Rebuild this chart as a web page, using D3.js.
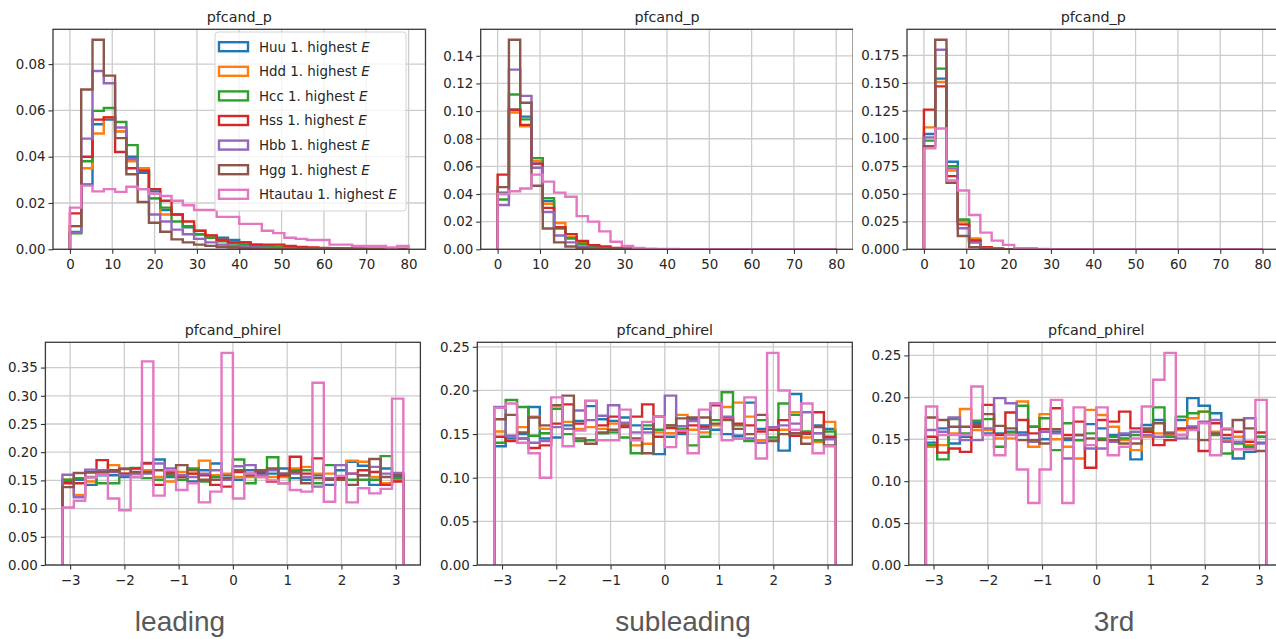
<!DOCTYPE html>
<html>
<head>
<meta charset="utf-8">
<script src="https://cdn.jsdelivr.net/npm/d3@7"></script>
<style>
  html, body { margin: 0; padding: 0; background: #fff; }
  svg { display: block; }
</style>
</head>
<body>
<svg id="fig" width="1276" height="639"></svg>
<script>
// ---- series and binning -------------------------------------------------
const seriesNames = ["Huu", "Hdd", "Hcc", "Hss", "Hbb", "Hgg", "Htautau"];
const seriesColors = ["#1f77b4", "#ff7f0e", "#2ca02c", "#d62728", "#9467bd", "#8c564b", "#e377c2"];
const nBins = 30;
const pRange = [0, 80];
const phiRange = [-Math.PI, Math.PI];

// ---- tick values ---------------------------------------------------------
const pTicks = [0, 10, 20, 30, 40, 50, 60, 70, 80];
const phiTicks = [-3, -2, -1, 0, 1, 2, 3];
const yTicksLeadP = [0, 0.02, 0.04, 0.06, 0.08];
const yTicksSubP = [0, 0.02, 0.04, 0.06, 0.08, 0.10, 0.12, 0.14];
const yTicksThirdP = [0, 0.025, 0.05, 0.075, 0.10, 0.125, 0.15, 0.175];
const yTicksLeadPhi = [0, 0.05, 0.10, 0.15, 0.20, 0.25, 0.30, 0.35];
const yTicksSubPhi = [0, 0.05, 0.10, 0.15, 0.20, 0.25];
const yTicksThirdPhi = [0, 0.05, 0.10, 0.15, 0.20, 0.25];

// ---- panel titles and row captions --------------------------------------
const titleP = "pfcand_p";
const titlePhi = "pfcand_phirel";
const captions = ["leading", "subleading", "3rd"];

// ---- normalised histograms (rows follow seriesNames) --------------------
// pfcand_p, leading candidate
const pLeading = [
  [0.0075, 0.028, 0.054, 0.056, 0.051, 0.040, 0.033, 0.025, 0.017, 0.015, 0.0095, 0.0065, 0.005, 0.005, 0.004, 0.003, 0.002, 0.0015, 0.001, 0.0008, 0.0006, 0.0005, 0.0004, 0.0003, 0.0002, 0.0002, 0.0001, 0.0001, 0.0001, 0.0001],
  [0.010, 0.035, 0.050, 0.057, 0.051, 0.038, 0.035, 0.022, 0.015, 0.015, 0.010, 0.008, 0.006, 0.004, 0.003, 0.002, 0.0015, 0.0015, 0.001, 0.001, 0.0008, 0.0006, 0.0005, 0.0004, 0.0003, 0.0002, 0.0002, 0.0001, 0.0001, 0.0001],
  [0.0069, 0.038, 0.0598, 0.061, 0.055, 0.045, 0.034, 0.022, 0.018, 0.012, 0.010, 0.0065, 0.005, 0.0035, 0.0025, 0.002, 0.0015, 0.001, 0.0008, 0.0006, 0.0005, 0.0004, 0.0003, 0.0002, 0.0002, 0.0001, 0.0001, 0.0001, 0, 0],
  [0.0155, 0.040, 0.056, 0.057, 0.042, 0.035, 0.034, 0.026, 0.021, 0.015, 0.012, 0.008, 0.006, 0.004, 0.003, 0.003, 0.002, 0.002, 0.002, 0.0015, 0.001, 0.0008, 0.0006, 0.0005, 0.0004, 0.0003, 0.0002, 0.0002, 0.0001, 0.0001],
  [0.0072, 0.0478, 0.077, 0.0717, 0.0526, 0.039, 0.026, 0.015, 0.012, 0.0085, 0.0065, 0.0045, 0.003, 0.002, 0.0015, 0.001, 0.0008, 0.0006, 0.0004, 0.0003, 0.0002, 0.0002, 0.0001, 0.0001, 0, 0, 0, 0, 0, 0],
  [0.010, 0.069, 0.0905, 0.075, 0.048, 0.0324, 0.0204, 0.0115, 0.0076, 0.0043, 0.003, 0.002, 0.0015, 0.001, 0.0008, 0.0005, 0.0003, 0.0002, 0.0002, 0.0001, 0.0001, 0, 0, 0, 0, 0, 0, 0, 0, 0],
  [0.018, 0.0275, 0.025, 0.026, 0.0248, 0.027, 0.026, 0.024, 0.023, 0.021, 0.019, 0.017, 0.017, 0.014, 0.014, 0.011, 0.011, 0.008, 0.007, 0.005, 0.0045, 0.004, 0.004, 0.002, 0.002, 0.0015, 0.0015, 0.0015, 0.0008, 0.0015]
];

// pfcand_p, subleading candidate
const pSubleading = [
  [0.041, 0.101, 0.096, 0.062, 0.035, 0.016, 0.008, 0.004, 0.002, 0.001, 0.0005, 0.0002, 0.0001, 0, 0, 0, 0, 0, 0, 0, 0, 0, 0, 0, 0, 0, 0, 0, 0, 0],
  [0.040, 0.099, 0.089, 0.064, 0.033, 0.019, 0.009, 0.005, 0.002, 0.001, 0.0005, 0.0002, 0.0001, 0, 0, 0, 0, 0, 0, 0, 0, 0, 0, 0, 0, 0, 0, 0, 0, 0],
  [0.036, 0.112, 0.094, 0.066, 0.037, 0.015, 0.008, 0.004, 0.002, 0.001, 0.0004, 0.0002, 0.0001, 0, 0, 0, 0, 0, 0, 0, 0, 0, 0, 0, 0, 0, 0, 0, 0, 0],
  [0.054, 0.101, 0.090, 0.062, 0.030, 0.016, 0.011, 0.006, 0.003, 0.002, 0.001, 0.0004, 0.0002, 0.0001, 0, 0, 0, 0, 0, 0, 0, 0, 0, 0, 0, 0, 0, 0, 0, 0],
  [0.032, 0.130, 0.111, 0.059, 0.027, 0.010, 0.005, 0.002, 0.001, 0.0005, 0.0002, 0.0001, 0, 0, 0, 0, 0, 0, 0, 0, 0, 0, 0, 0, 0, 0, 0, 0, 0, 0],
  [0.045, 0.1516, 0.106, 0.046, 0.015, 0.005, 0.002, 0.001, 0.0005, 0.0002, 0.0001, 0, 0, 0, 0, 0, 0, 0, 0, 0, 0, 0, 0, 0, 0, 0, 0, 0, 0, 0],
  [0.040, 0.042, 0.044, 0.054, 0.049, 0.041, 0.038, 0.024, 0.020, 0.013, 0.0055, 0.0025, 0.001, 0.0005, 0.0003, 0.0002, 0.0001, 0.0001, 0, 0, 0, 0, 0, 0, 0, 0, 0, 0, 0, 0]
];

// pfcand_p, third candidate
const pThird = [
  [0.104, 0.154, 0.079, 0.026, 0.008, 0.0015, 0.0005, 0.0002, 0, 0, 0, 0, 0, 0, 0, 0, 0, 0, 0, 0, 0, 0, 0, 0, 0, 0, 0, 0, 0, 0],
  [0.110, 0.151, 0.071, 0.025, 0.0099, 0.002, 0.0006, 0.0002, 0, 0, 0, 0, 0, 0, 0, 0, 0, 0, 0, 0, 0, 0, 0, 0, 0, 0, 0, 0, 0, 0],
  [0.098, 0.163, 0.075, 0.027, 0.008, 0.0015, 0.0005, 0.0002, 0, 0, 0, 0, 0, 0, 0, 0, 0, 0, 0, 0, 0, 0, 0, 0, 0, 0, 0, 0, 0, 0],
  [0.126, 0.147, 0.066, 0.0225, 0.0078, 0.002, 0.0006, 0.0002, 0, 0, 0, 0, 0, 0, 0, 0, 0, 0, 0, 0, 0, 0, 0, 0, 0, 0, 0, 0, 0, 0],
  [0.101, 0.180, 0.073, 0.019, 0.006, 0.001, 0.0003, 0.0001, 0, 0, 0, 0, 0, 0, 0, 0, 0, 0, 0, 0, 0, 0, 0, 0, 0, 0, 0, 0, 0, 0],
  [0.093, 0.189, 0.060, 0.012, 0.0018, 0.0005, 0.0001, 0, 0, 0, 0, 0, 0, 0, 0, 0, 0, 0, 0, 0, 0, 0, 0, 0, 0, 0, 0, 0, 0, 0],
  [0.091, 0.109, 0.062, 0.053, 0.031, 0.015, 0.0078, 0.004, 0.001, 0.001, 0.0003, 0.0001, 0, 0, 0, 0, 0, 0, 0, 0, 0, 0, 0, 0, 0, 0, 0, 0, 0, 0]
];

// pfcand_phirel, leading candidate
const phiLeading = [
  [0.147, 0.151, 0.142, 0.159, 0.159, 0.156, 0.156, 0.181, 0.187, 0.156, 0.159, 0.148, 0.168, 0.180, 0.159, 0.151, 0.168, 0.165, 0.162, 0.171, 0.154, 0.151, 0.159, 0.142, 0.168, 0.183, 0.176, 0.142, 0.171, 0.156],
  [0.151, 0.124, 0.148, 0.162, 0.177, 0.162, 0.162, 0.168, 0.156, 0.148, 0.165, 0.162, 0.185, 0.159, 0.162, 0.156, 0.156, 0.156, 0.156, 0.156, 0.171, 0.174, 0.162, 0.162, 0.156, 0.185, 0.183, 0.156, 0.145, 0.151],
  [0.151, 0.154, 0.156, 0.145, 0.145, 0.171, 0.172, 0.154, 0.151, 0.159, 0.151, 0.171, 0.148, 0.156, 0.154, 0.187, 0.145, 0.159, 0.191, 0.145, 0.168, 0.168, 0.145, 0.177, 0.151, 0.151, 0.151, 0.151, 0.193, 0.154],
  [0.145, 0.145, 0.165, 0.186, 0.168, 0.162, 0.171, 0.180, 0.142, 0.165, 0.156, 0.162, 0.159, 0.142, 0.139, 0.165, 0.162, 0.162, 0.148, 0.159, 0.192, 0.162, 0.189, 0.151, 0.154, 0.162, 0.168, 0.165, 0.142, 0.148],
  [0.160, 0.120, 0.169, 0.168, 0.165, 0.159, 0.162, 0.162, 0.180, 0.171, 0.159, 0.156, 0.162, 0.168, 0.151, 0.175, 0.177, 0.159, 0.168, 0.162, 0.162, 0.156, 0.139, 0.154, 0.177, 0.162, 0.159, 0.174, 0.162, 0.163],
  [0.138, 0.163, 0.164, 0.165, 0.166, 0.170, 0.165, 0.165, 0.168, 0.162, 0.177, 0.168, 0.151, 0.151, 0.154, 0.168, 0.159, 0.168, 0.171, 0.162, 0.165, 0.145, 0.154, 0.151, 0.151, 0.142, 0.159, 0.188, 0.156, 0.159],
  [0.102, 0.114, 0.155, 0.160, 0.118, 0.097, 0.156, 0.361, 0.123, 0.168, 0.133, 0.145, 0.111, 0.130, 0.376, 0.118, 0.162, 0.156, 0.150, 0.145, 0.133, 0.130, 0.323, 0.112, 0.158, 0.111, 0.136, 0.127, 0.135, 0.295]
];

// pfcand_phirel, subleading candidate
const phiSubleading = [
  [0.136, 0.145, 0.150, 0.181, 0.145, 0.146, 0.160, 0.165, 0.182, 0.167, 0.165, 0.169, 0.160, 0.156, 0.127, 0.147, 0.150, 0.167, 0.160, 0.155, 0.150, 0.148, 0.186, 0.156, 0.158, 0.131, 0.196, 0.150, 0.160, 0.156],
  [0.153, 0.143, 0.158, 0.170, 0.156, 0.183, 0.164, 0.156, 0.158, 0.156, 0.162, 0.162, 0.137, 0.139, 0.152, 0.151, 0.172, 0.155, 0.152, 0.160, 0.181, 0.186, 0.170, 0.143, 0.143, 0.155, 0.175, 0.146, 0.141, 0.164],
  [0.140, 0.189, 0.181, 0.148, 0.151, 0.179, 0.150, 0.142, 0.143, 0.151, 0.152, 0.146, 0.128, 0.160, 0.155, 0.160, 0.156, 0.137, 0.147, 0.166, 0.198, 0.160, 0.142, 0.166, 0.146, 0.185, 0.172, 0.153, 0.143, 0.153],
  [0.147, 0.142, 0.145, 0.134, 0.137, 0.162, 0.184, 0.162, 0.188, 0.160, 0.170, 0.158, 0.170, 0.184, 0.147, 0.157, 0.152, 0.160, 0.158, 0.183, 0.169, 0.162, 0.160, 0.153, 0.155, 0.166, 0.148, 0.151, 0.175, 0.147],
  [0.181, 0.148, 0.145, 0.140, 0.142, 0.158, 0.156, 0.177, 0.166, 0.171, 0.183, 0.163, 0.152, 0.152, 0.170, 0.194, 0.159, 0.165, 0.156, 0.185, 0.170, 0.145, 0.145, 0.140, 0.158, 0.160, 0.162, 0.175, 0.151, 0.144],
  [0.167, 0.172, 0.152, 0.169, 0.160, 0.183, 0.194, 0.145, 0.139, 0.152, 0.155, 0.160, 0.145, 0.128, 0.170, 0.160, 0.168, 0.169, 0.169, 0.162, 0.166, 0.156, 0.150, 0.172, 0.142, 0.150, 0.151, 0.139, 0.158, 0.137],
  [0.180, 0.185, 0.140, 0.128, 0.100, 0.192, 0.136, 0.154, 0.188, 0.143, 0.143, 0.178, 0.143, 0.164, 0.170, 0.135, 0.154, 0.128, 0.178, 0.185, 0.143, 0.145, 0.192, 0.122, 0.243, 0.200, 0.155, 0.185, 0.128, 0.136]
];

// pfcand_phirel, third candidate
const phiThird = [
  [0.146, 0.163, 0.145, 0.153, 0.169, 0.157, 0.157, 0.159, 0.158, 0.165, 0.150, 0.159, 0.149, 0.149, 0.168, 0.163, 0.155, 0.155, 0.126, 0.167, 0.173, 0.153, 0.173, 0.199, 0.190, 0.181, 0.151, 0.127, 0.135, 0.146],
  [0.141, 0.143, 0.157, 0.186, 0.161, 0.161, 0.151, 0.151, 0.195, 0.141, 0.180, 0.150, 0.141, 0.127, 0.185, 0.179, 0.165, 0.149, 0.137, 0.153, 0.157, 0.155, 0.161, 0.175, 0.183, 0.159, 0.149, 0.153, 0.143, 0.153],
  [0.143, 0.126, 0.174, 0.157, 0.172, 0.174, 0.141, 0.158, 0.190, 0.165, 0.175, 0.137, 0.169, 0.149, 0.157, 0.151, 0.153, 0.151, 0.155, 0.161, 0.188, 0.153, 0.177, 0.181, 0.183, 0.155, 0.133, 0.145, 0.141, 0.153],
  [0.153, 0.134, 0.139, 0.135, 0.165, 0.191, 0.155, 0.182, 0.173, 0.157, 0.162, 0.187, 0.155, 0.171, 0.116, 0.173, 0.171, 0.183, 0.163, 0.159, 0.143, 0.149, 0.163, 0.165, 0.136, 0.169, 0.155, 0.159, 0.147, 0.158],
  [0.161, 0.159, 0.176, 0.149, 0.149, 0.163, 0.199, 0.193, 0.155, 0.147, 0.159, 0.157, 0.127, 0.155, 0.139, 0.139, 0.147, 0.157, 0.159, 0.155, 0.153, 0.158, 0.151, 0.165, 0.171, 0.173, 0.147, 0.147, 0.175, 0.145],
  [0.176, 0.173, 0.165, 0.165, 0.167, 0.180, 0.166, 0.163, 0.149, 0.149, 0.145, 0.162, 0.151, 0.155, 0.151, 0.149, 0.149, 0.145, 0.145, 0.163, 0.169, 0.157, 0.155, 0.163, 0.149, 0.157, 0.162, 0.173, 0.163, 0.136],
  [0.189, 0.155, 0.155, 0.155, 0.213, 0.155, 0.131, 0.155, 0.114, 0.074, 0.114, 0.197, 0.074, 0.188, 0.143, 0.188, 0.131, 0.141, 0.151, 0.189, 0.221, 0.253, 0.155, 0.161, 0.169, 0.131, 0.163, 0.138, 0.138, 0.197]
];

// ---- figure layout --------------------------------------------------------
const svg = d3.select("#fig");
const FONT = "'DejaVu Sans', sans-serif";
const TEXT_COLOR = "#262626";
const TICK_FONT = 13.4;
const LINE_W = 2.4;

// each column is a separate screenshot; content is cut at its right border
const columns = [[0, 428], [428, 853], [853, 1276]];
const rowTop = { top: 29.3, bottom: 249.3 };
const rowBottom = { top: 342.3, bottom: 565 };

const panels = [
  { col: 0, row: rowTop, left: 53, width: 372.5, range: pRange, margin: 4, xTicks: pTicks, yTicks: yTicksLeadP, yFmt: ".2f", xFmt: "d", title: titleP, data: pLeading, legend: true },
  { col: 1, row: rowTop, left: 480.7, width: 372.5, range: pRange, margin: 4, xTicks: pTicks, yTicks: yTicksSubP, yFmt: ".2f", xFmt: "d", title: titleP, data: pSubleading },
  { col: 2, row: rowTop, left: 907, width: 372.5, range: pRange, margin: 4, xTicks: pTicks, yTicks: yTicksThirdP, yFmt: ".3f", xFmt: "d", title: titleP, data: pThird },
  { col: 0, row: rowBottom, left: 45.4, width: 375, range: phiRange, margin: 0.1 * Math.PI, xTicks: phiTicks, yTicks: yTicksLeadPhi, yFmt: ".2f", xFmt: "d", title: titlePhi, data: phiLeading },
  { col: 1, row: rowBottom, left: 477.3, width: 375, range: phiRange, margin: 0.1 * Math.PI, xTicks: phiTicks, yTicks: yTicksSubPhi, yFmt: ".2f", xFmt: "d", title: titlePhi, data: phiSubleading },
  { col: 2, row: rowBottom, left: 908.8, width: 375, range: phiRange, margin: 0.1 * Math.PI, xTicks: phiTicks, yTicks: yTicksThirdPhi, yFmt: ".2f", xFmt: "d", title: titlePhi, data: phiThird }
];

const defs = svg.append("defs");
columns.forEach((c, i) => {
  defs.append("clipPath").attr("id", "col" + i)
    .append("rect").attr("x", c[0]).attr("y", 0).attr("width", c[1] - c[0]).attr("height", 639);
});

function stepPoints(values, edges) {
  const pts = [[edges[0], 0]];
  values.forEach((v, i) => {
    pts.push([edges[i], v]);
    pts.push([edges[i + 1], v]);
  });
  pts.push([edges[edges.length - 1], 0]);
  return pts;
}

panels.forEach((p, idx) => {
  const top = p.row.top, bottom = p.row.bottom;
  const right = p.left + p.width;
  const x = d3.scaleLinear()
    .domain([p.range[0] - p.margin, p.range[1] + p.margin])
    .range([p.left, right]);
  const yMax = 1.05 * d3.max(p.data.flat());
  const y = d3.scaleLinear().domain([0, yMax]).range([bottom, top]);

  const g = svg.append("g").attr("clip-path", `url(#col${p.col})`);

  // axes clip for the histogram outlines
  defs.append("clipPath").attr("id", "ax" + idx)
    .append("rect").attr("x", p.left).attr("y", top).attr("width", p.width).attr("height", bottom - top);

  // grid
  const grid = g.append("g").attr("stroke", "#cccccc").attr("stroke-width", 1.3);
  p.xTicks.forEach(t => grid.append("line")
    .attr("x1", x(t)).attr("x2", x(t)).attr("y1", top).attr("y2", bottom));
  p.yTicks.forEach(t => grid.append("line")
    .attr("x1", p.left).attr("x2", right).attr("y1", y(t)).attr("y2", y(t)));

  // histogram outlines (step style)
  const edges = d3.range(nBins + 1).map(i => p.range[0] + i * (p.range[1] - p.range[0]) / nBins);
  const line = d3.line().x(d => x(d[0])).y(d => y(d[1]));
  const hist = g.append("g").attr("clip-path", `url(#ax${idx})`);
  p.data.forEach((vals, s) => {
    hist.append("path")
      .attr("d", line(stepPoints(vals, edges)))
      .attr("fill", "none")
      .attr("stroke", seriesColors[s])
      .attr("stroke-width", LINE_W)
      .attr("stroke-linejoin", "miter");
  });

  // x axis
  const xAxis = d3.axisBottom(x).tickValues(p.xTicks).tickSizeInner(4.5).tickSizeOuter(0).tickPadding(5.5)
    .tickFormat(d3.format(p.xFmt));
  const gx = g.append("g").attr("transform", `translate(0,${bottom})`).call(xAxis);
  gx.select(".domain").remove();
  gx.selectAll(".tick line").attr("stroke", "#333").attr("stroke-width", 1.1);
  gx.selectAll(".tick text").attr("fill", TEXT_COLOR).attr("font-family", FONT).attr("font-size", TICK_FONT);

  // y axis
  const yAxis = d3.axisLeft(y).tickValues(p.yTicks).tickSizeInner(4.5).tickSizeOuter(0).tickPadding(3)
    .tickFormat(d3.format(p.yFmt));
  const gy = g.append("g").attr("transform", `translate(${p.left},0)`).call(yAxis);
  gy.select(".domain").remove();
  gy.selectAll(".tick line").attr("stroke", "#333").attr("stroke-width", 1.1);
  gy.selectAll(".tick text").attr("fill", TEXT_COLOR).attr("font-family", FONT).attr("font-size", TICK_FONT);

  // frame
  g.append("rect")
    .attr("x", p.left).attr("y", top).attr("width", p.width).attr("height", bottom - top)
    .attr("fill", "none").attr("stroke", "#3a3a3a").attr("stroke-width", 1.3);

  // title
  svg.append("text")
    .attr("x", (p.left + right) / 2).attr("y", top - 7)
    .attr("text-anchor", "middle")
    .attr("font-family", FONT).attr("font-size", 14.3).attr("fill", TEXT_COLOR)
    .text(p.title);

  // legend
  if (p.legend) {
    const lx = 215, ly = 32, lw = 191, lh = 179, rowH = 24.6;
    const lg = g.append("g");
    lg.append("rect")
      .attr("x", lx).attr("y", ly).attr("width", lw).attr("height", lh)
      .attr("rx", 3).attr("fill", "#fff").attr("fill-opacity", 0.8)
      .attr("stroke", "#d4d4d4").attr("stroke-width", 1);
    seriesNames.forEach((name, s) => {
      const cy = ly + 14.7 + s * rowH;
      lg.append("rect")
        .attr("x", lx + 4).attr("y", cy - 4.5).attr("width", 29).attr("height", 9)
        .attr("fill", "none").attr("stroke", seriesColors[s]).attr("stroke-width", LINE_W);
      const t = lg.append("text")
        .attr("x", lx + 44).attr("y", cy + 4.8)
        .attr("font-family", FONT).attr("font-size", 13.4).attr("fill", TEXT_COLOR);
      t.append("tspan").text(name + " 1. highest ");
      t.append("tspan").attr("font-style", "italic").text("E");
    });
  }
});

// captions under each column
const captionX = [180, 683, 1114];
captions.forEach((c, i) => {
  svg.append("text")
    .attr("x", captionX[i]).attr("y", 631)
    .attr("text-anchor", "middle")
    .attr("font-family", "'Liberation Sans', Arial, sans-serif")
    .attr("font-size", 28).attr("fill", "#595959")
    .text(c);
});
</script>
</body>
</html>
